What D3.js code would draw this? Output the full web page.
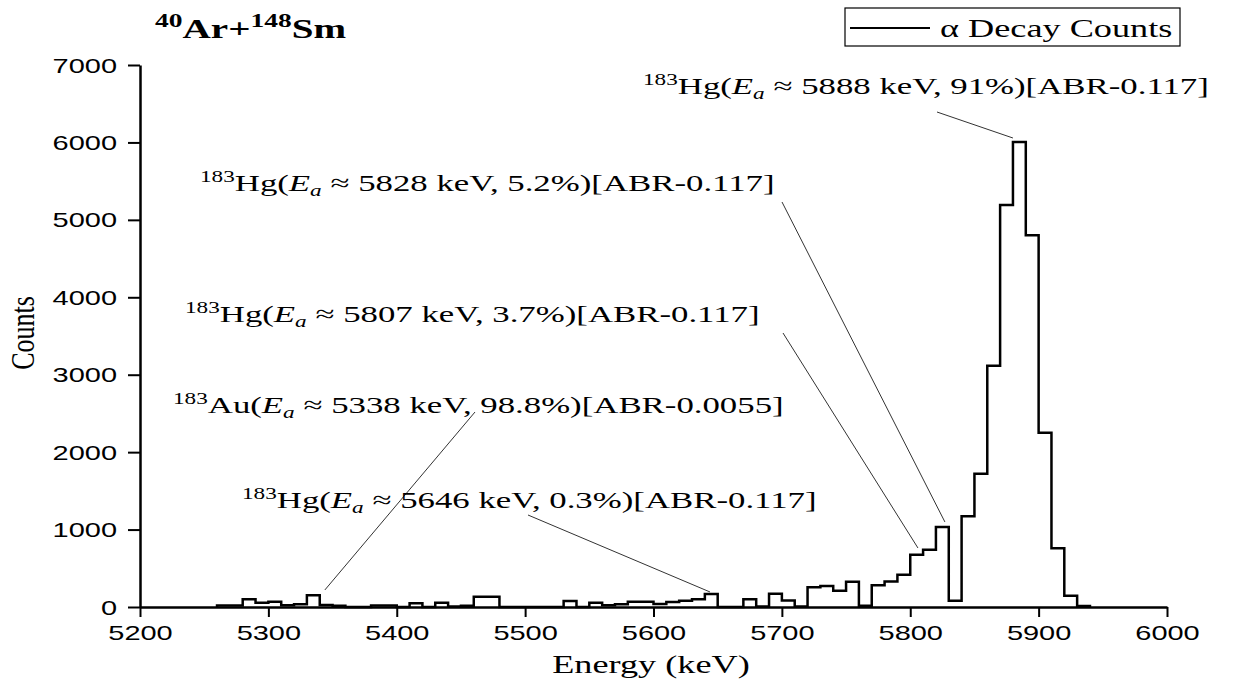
<!DOCTYPE html>
<html>
<head>
<meta charset="utf-8">
<script src="https://cdn.jsdelivr.net/npm/d3@7"></script>
<style>
  body { margin: 0; background: #fff; }
  svg { display: block; }
  .serif { font-family: "Liberation Serif", "Times New Roman", serif; fill: #000; }
  .tick text { font-family: "Liberation Sans", Arial, sans-serif; font-size: 20px; fill: #000; }
  .axis path, .axis line { stroke: #000; }
</style>
</head>
<body>
<svg width="1234" height="679"></svg>
<script>
// histogram: 10 keV bins, left edge of each bin
const binStart = [
  5260, 5270, 5280, 5290, 5300, 5310, 5320, 5330, 5340, 5350,
  5360, 5370, 5380, 5390, 5400, 5410, 5420, 5430, 5440, 5450,
  5460, 5470, 5480, 5490, 5500, 5510, 5520, 5530, 5540, 5550,
  5560, 5570, 5580, 5590, 5600, 5610, 5620, 5630, 5640, 5650,
  5660, 5670, 5680, 5690, 5700, 5710, 5720, 5730, 5740, 5750,
  5760, 5770, 5780, 5790, 5800, 5810, 5820, 5830, 5840, 5850,
  5860, 5870, 5880, 5890, 5900, 5910, 5920, 5930
];
const binCounts = [
  20, 20, 100, 56, 69, 22, 35, 151, 26, 17,
  0, 0, 20, 20, 0, 48, 0, 56, 5, 17,
  134, 134, 0, 0, 0, 0, 0, 78, 0, 56,
  22, 35, 69, 69, 39, 65, 82, 100, 169, 0,
  0, 100, 5, 170, 85, 5, 255, 272, 210, 325,
  15, 280, 328, 415, 674, 739, 1033, 82, 1171, 1720,
  3115, 5192, 6005, 4800, 2251, 758, 146, 13
];
const binWidth = 10;

const xTicks = d3.range(5200, 6001, 100);
const xMinor = d3.range(5250, 6000, 100);
const yTicks = d3.range(0, 7001, 1000);
const yMinor = d3.range(500, 7000, 1000);

// annotations
const annoMass = ['183', '183', '183', '183', '183'];
const annoNuclide = ['Hg', 'Hg', 'Hg', 'Au', 'Hg'];
const annoEnergy = [5888, 5828, 5807, 5338, 5646];
const annoBranch = ['91%', '5.2%', '3.7%', '98.8%', '0.3%'];
const annoABR = ['0.117', '0.117', '0.117', '0.0055', '0.117'];
// where each leader line points (energy, counts)
const annoTargetE = [5880, 5827, 5806, 5344, 5644];
const annoTargetC = [6057, 1098, 762, 220, 194];

// label placement in pixels (layout, not data)
const annoLabelPos = [[643, 94], [200, 191], [185, 322], [173, 413], [242, 508]];
const annoLineStart = [[937, 112], [782, 202], [783, 333], [475, 412], [528, 515]];

const SX = 1.45; // the original figure is horizontally stretched

const svg = d3.select('svg');
svg.append('rect').attr('width', 1234).attr('height', 679).attr('fill', '#fff');

const x = d3.scaleLinear().domain([5200, 6000]).range([140, 1167]);
const y = d3.scaleLinear().domain([0, 7000]).range([607, 65]);

function stretched(parent, px, py) {
  return parent.append('text')
    .attr('class', 'serif')
    .attr('transform', `translate(${px},${py}) scale(${SX},1)`)
    .style('white-space', 'pre');
}

// axes
const xAxisG = svg.append('g').attr('class', 'axis')
  .attr('transform', `translate(0,${y(0)})`);
xAxisG.call(d3.axisBottom(x).tickValues(xMinor).tickSize(5).tickSizeOuter(0).tickFormat(''));
xAxisG.call(d3.axisBottom(x).tickValues(xTicks).tickSize(10).tickSizeOuter(0).tickFormat(d3.format('d')));
xAxisG.selectAll('path').attr('stroke-width', 2.5);
xAxisG.selectAll('line').attr('stroke-width', 2);
xAxisG.selectAll('.tick text')
  .attr('y', 0).attr('dy', 0)
  .attr('transform', `translate(0,33) scale(${SX},1)`);

const yAxisG = svg.append('g').attr('class', 'axis')
  .attr('transform', `translate(${x(5200)},0)`);
yAxisG.call(d3.axisLeft(y).tickValues(yMinor).tickSize(6).tickSizeOuter(0).tickFormat(''));
yAxisG.call(d3.axisLeft(y).tickValues(yTicks).tickSize(12).tickSizeOuter(0).tickFormat(d3.format('d')));
yAxisG.selectAll('path').attr('stroke-width', 2.5);
yAxisG.selectAll('line').attr('stroke-width', 2);
yAxisG.selectAll('.tick text')
  .attr('x', 0).attr('dy', 0)
  .attr('transform', `translate(-23,7) scale(${SX},1)`);

// histogram as a step outline
const pts = [[binStart[0], 0]];
binStart.forEach((s, i) => {
  pts.push([s, binCounts[i]]);
  pts.push([s + binWidth, binCounts[i]]);
});
pts.push([binStart[binStart.length - 1] + binWidth, 0]);

const line = d3.line().x(d => x(d[0])).y(d => y(d[1]));
svg.append('path')
  .attr('d', line(pts))
  .attr('fill', 'none')
  .attr('stroke', '#000')
  .attr('stroke-width', 2.5)
  .attr('stroke-linejoin', 'miter');

// axis titles
stretched(svg, 651, 673)
  .attr('text-anchor', 'middle')
  .attr('font-size', 25)
  .text('Energy (keV)');

svg.append('text')
  .attr('class', 'serif')
  .attr('transform', `translate(34,333) scale(1.3,1) rotate(-90)`)
  .attr('text-anchor', 'middle')
  .attr('font-size', 26)
  .text('Counts');

// title
const title = stretched(svg, 155, 38).attr('font-size', 27).attr('font-weight', 'bold');
title.append('tspan').attr('font-size', 19).attr('dy', -11).text('40');
title.append('tspan').attr('dy', 11).text('Ar+');
title.append('tspan').attr('font-size', 19).attr('dy', -11).text('148');
title.append('tspan').attr('dy', 11).text('Sm');

// legend
svg.append('rect')
  .attr('x', 845).attr('y', 8).attr('width', 335).attr('height', 38)
  .attr('fill', '#fff').attr('stroke', '#000').attr('stroke-width', 1.2);
svg.append('line')
  .attr('x1', 850).attr('x2', 930).attr('y1', 28).attr('y2', 28)
  .attr('stroke', '#000').attr('stroke-width', 2);
stretched(svg, 940, 37).attr('font-size', 25).text('α Decay Counts');

// annotations with leader lines
annoEnergy.forEach((e, i) => {
  const [lx, ly] = annoLabelPos[i];
  const t = stretched(svg, lx, ly).attr('font-size', 24);
  t.append('tspan').attr('font-size', 16).attr('dy', -9).text(annoMass[i]);
  t.append('tspan').attr('dy', 9).text(annoNuclide[i] + '(');
  t.append('tspan').attr('font-style', 'italic').text('E');
  t.append('tspan').attr('font-style', 'italic').attr('font-size', 16).attr('dy', 5).text('a');
  t.append('tspan').attr('dy', -5)
    .text(` \u2248 ${e} keV, ${annoBranch[i]})[ABR-${annoABR[i]}]`);

  const [sx0, sy0] = annoLineStart[i];
  svg.append('line')
    .attr('x1', sx0).attr('y1', sy0)
    .attr('x2', x(annoTargetE[i])).attr('y2', y(annoTargetC[i]))
    .attr('stroke', '#333').attr('stroke-width', 1);
});
</script>
</body>
</html>
